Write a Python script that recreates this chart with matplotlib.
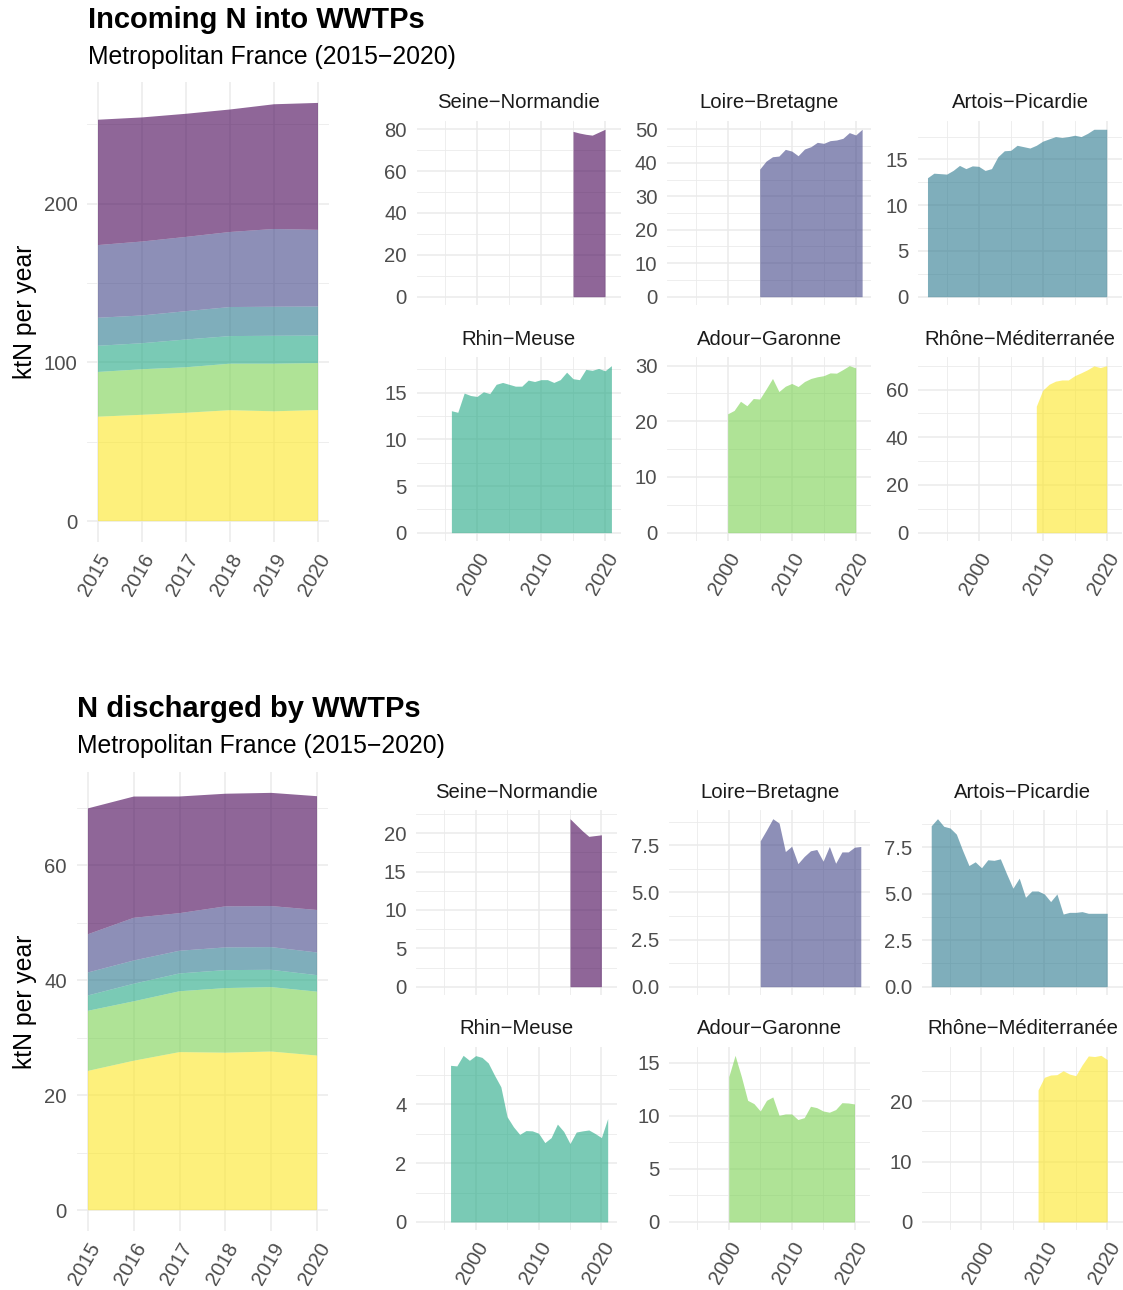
import matplotlib
matplotlib.use("Agg")
import matplotlib.pyplot as plt
from matplotlib.ticker import MultipleLocator, FormatStrFormatter, FixedLocator
import numpy as np

plt.rcParams['font.family'] = ['Liberation Sans', 'DejaVu Sans']

# ---------------- data ----------------
basins = ["Seine−Normandie", "Loire−Bretagne", "Artois−Picardie",
          "Rhin−Meuse", "Adour−Garonne", "Rhône−Méditerranée"]
colors = ["#440154", "#414487", "#2A788E", "#22A884", "#7AD151", "#FDE725"]

# Incoming N (ktN / year)
in_seine_years = list(range(2015, 2021))
in_seine = [79.0, 78.2, 77.6, 77.2, 78.6, 80.0]
in_loire_years = list(range(2005, 2022))
in_loire = [38.1, 40.5, 41.8, 42.0, 44.0, 43.5, 42.1, 44.1, 44.8, 46.1, 45.8,
            46.6, 46.8, 47.3, 49.0, 48.3, 50.0]
in_artois_years = list(range(1992, 2021))
in_artois = [13.0, 13.5, 13.45, 13.4, 13.8, 14.35, 14.0, 14.3, 14.25, 13.8,
             14.0, 15.3, 15.95, 16.0, 16.55, 16.4, 16.25, 16.55, 17.0, 17.25,
             17.5, 17.4, 17.5, 17.65, 17.5, 17.85, 18.3, 18.3, 18.3]
in_rhin_years = list(range(1996, 2022))
in_rhin = [13.07, 12.9, 14.96, 14.7, 14.6, 15.1, 14.9, 15.9, 16.1, 15.9, 15.7,
           15.7, 16.35, 16.2, 16.4, 16.4, 16.1, 16.4, 17.2, 16.5, 16.4, 17.5,
           17.4, 17.6, 17.35, 17.9]
in_adour_years = list(range(2000, 2021))
in_adour = [21.35, 21.95, 23.6, 22.8, 24.1, 24.0, 25.8, 27.7, 25.35, 26.3,
            26.8, 26.25, 27.15, 27.7, 28.0, 28.2, 28.7, 28.65, 29.3, 30.0, 29.6]
in_rhone_years = list(range(2009, 2021))
in_rhone = [53.0, 59.7, 62.2, 63.5, 64.0, 64.0, 65.8, 67.0, 68.3, 69.9, 69.2, 70.0]

# N discharged (ktN / year)
out_seine_years = list(range(2015, 2021))
out_seine = [21.9, 21.1, 20.3, 19.6, 19.7, 19.8]
out_loire_years = list(range(2005, 2022))
out_loire = [7.73, 8.3, 8.9, 8.67, 7.16, 7.44, 6.52, 6.9, 7.2, 7.27, 6.65,
             7.43, 6.54, 7.14, 7.14, 7.39, 7.43]
out_artois_years = list(range(1992, 2021))
out_artois = [8.66, 9.04, 8.63, 8.54, 8.21, 7.33, 6.52, 6.72, 6.4, 6.83, 6.8,
              6.88, 6.07, 5.3, 5.84, 4.81, 5.15, 5.15, 4.99, 4.58, 4.99, 3.91,
              4.0, 4.0, 4.04, 3.95, 3.95, 3.95, 3.95]
out_rhin_years = list(range(1996, 2022))
out_rhin = [5.33, 5.31, 5.67, 5.5, 5.66, 5.6, 5.41, 4.99, 4.6, 3.58, 3.24,
            2.98, 3.11, 3.1, 3.02, 2.7, 2.87, 3.33, 3.08, 2.67, 3.06, 3.1,
            3.13, 3.01, 2.87, 3.52]
out_adour_years = list(range(2000, 2021))
out_adour = [13.7, 15.7, 13.7, 11.46, 11.15, 10.46, 11.46, 11.78, 10.05,
             10.18, 10.18, 9.65, 9.83, 10.9, 10.77, 10.46, 10.34, 10.59,
             11.24, 11.21, 11.12]
out_rhone_years = list(range(2009, 2021))
out_rhone = [21.87, 23.96, 24.34, 24.4, 25.05, 24.5, 24.23, 26.0, 27.5, 27.4,
             27.6, 26.9]

stack_years = [2015, 2016, 2017, 2018, 2019, 2020]

incoming = [(in_seine_years, in_seine), (in_loire_years, in_loire),
            (in_artois_years, in_artois), (in_rhin_years, in_rhin),
            (in_adour_years, in_adour), (in_rhone_years, in_rhone)]
discharged = [(out_seine_years, out_seine), (out_loire_years, out_loire),
              (out_artois_years, out_artois), (out_rhin_years, out_rhin),
              (out_adour_years, out_adour), (out_rhone_years, out_rhone)]

in_ysteps = [20, 10, 5, 5, 10, 20]
out_ysteps = [5, 2.5, 2.5, 2, 5, 10]

# ---------------- style ----------------
W, H = 1123, 1290
GRID = "#EBEBEB"
TICK_C = "#4D4D4D"
STRIP_C = "#1A1A1A"
TICK_FS = 14.6
STRIP_FS = 14.6
AXT_FS = 17.8
TITLE_FS = 21
SUB_FS = 17.8
ALPHA = 0.6

fig = plt.figure(figsize=(W / 100, H / 100), dpi=100)


def rect(l, r, t, b):
    return [l / W, 1 - b / H, (r - l) / W, (b - t) / H]


def style(ax):
    for s in ax.spines.values():
        s.set_visible(False)
    ax.set_axisbelow(True)
    ax.grid(which="major", color=GRID, lw=1.15)
    ax.grid(which="minor", color=GRID, lw=0.6)
    ax.tick_params(which="both", length=0, colors=TICK_C, labelsize=TICK_FS)
    ax.tick_params(axis="y", pad=7)
    ax.tick_params(axis="x", pad=6)


def rotate_xlabels(ax):
    for lbl in ax.get_xticklabels():
        lbl.set_rotation(60)
        lbl.set_ha("right")
        lbl.set_va("top")
        lbl.set_rotation_mode("anchor")


def stacked(ax, data, ystep, label_x):
    layers = []
    for yrs, vals in data:
        lookup = dict(zip(yrs, vals))
        layers.append([lookup[y] for y in stack_years])
    # first basin sits on top of the stack
    ax.stackplot(stack_years, *layers[::-1], colors=colors[::-1],
                 alpha=ALPHA, lw=0)
    total = np.sum(np.array(layers), axis=0)
    ymax = total.max()
    ax.set_ylim(-0.05 * ymax, 1.05 * ymax)
    ax.set_xlim(2015 - 0.25, 2020 + 0.25)
    ax.xaxis.set_major_locator(FixedLocator(stack_years))
    ax.yaxis.set_major_locator(MultipleLocator(ystep))
    ax.yaxis.set_minor_locator(MultipleLocator(ystep / 2))
    style(ax)
    ax.set_ylabel("ktN per year", fontsize=AXT_FS, color="black")
    ax.yaxis.set_label_coords(label_x, 0.5)
    rotate_xlabels(ax)


def facets(data, ysteps, cols_l, width, rows_tb):
    for i, (yrs, vals) in enumerate(data):
        r, c = divmod(i, 3)
        t, b = rows_tb[r]
        ax = fig.add_axes(rect(cols_l[c], cols_l[c] + width, t, b))
        ax.fill_between(yrs, 0, vals, color=colors[i], alpha=ALPHA, lw=0)
        ymax = max(vals)
        ax.set_ylim(-0.05 * ymax, 1.05 * ymax)
        ax.set_xlim(1990.55, 2022.45)
        ax.xaxis.set_major_locator(MultipleLocator(10))
        ax.xaxis.set_minor_locator(MultipleLocator(5))
        ax.yaxis.set_major_locator(MultipleLocator(ysteps[i]))
        ax.yaxis.set_minor_locator(MultipleLocator(ysteps[i] / 2))
        if ysteps[i] == 2.5:
            ax.yaxis.set_major_formatter(FormatStrFormatter("%.1f"))
        else:
            ax.yaxis.set_major_formatter(FormatStrFormatter("%g"))
        style(ax)
        ax.set_title(basins[i], fontsize=STRIP_FS, color=STRIP_C, pad=9)
        if r == 0:
            ax.tick_params(axis="x", labelbottom=False)
        else:
            rotate_xlabels(ax)


# ---------------- top block: incoming ----------------
fig.text(88 / W, 1 - 28 / H, "Incoming N into WWTPs", fontsize=TITLE_FS,
         fontweight="bold", ha="left", va="baseline")
fig.text(88 / W, 1 - 64 / H, "Metropolitan France (2015−2020)",
         fontsize=SUB_FS, ha="left", va="baseline")
ax1 = fig.add_axes(rect(87, 329, 82, 542))
stacked(ax1, incoming, 100, (37 - 87) / 242)
facets(incoming, in_ysteps, [416.5, 667.2, 918.2], 204.2,
       [(120.9, 305.1), (357.3, 541.0)])

# ---------------- bottom block: discharged ----------------
fig.text(77 / W, 1 - 717 / H, "N discharged by WWTPs", fontsize=TITLE_FS,
         fontweight="bold", ha="left", va="baseline")
fig.text(77 / W, 1 - 753 / H, "Metropolitan France (2015−2020)",
         fontsize=SUB_FS, ha="left", va="baseline")
ax2 = fig.add_axes(rect(76.5, 328.5, 772, 1231))
stacked(ax2, discharged, 20, (37 - 76.5) / 252)
facets(discharged, out_ysteps, [416.3, 669.4, 922.1], 200.5,
       [(810.3, 995.1), (1047.0, 1230.3)])

fig.savefig("out.png", dpi=100, facecolor="white")
